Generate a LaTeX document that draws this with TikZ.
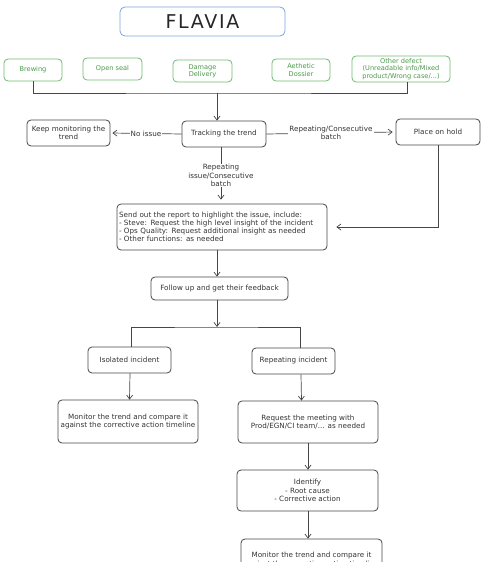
\documentclass[tikz,border=0pt]{standalone}
\usepackage{fontspec}
\setmainfont{DejaVu Sans}
\newfontfamily\titlefont{DejaVu Sans}[LetterSpace=9]
\usepackage{xcolor}
\usepackage{tikz}
\usetikzlibrary{calc}
\usetikzlibrary{arrows.meta}
\definecolor{boxgreen}{RGB}{110,186,110}
\definecolor{textgreen}{RGB}{72,152,72}
\definecolor{boxblue}{RGB}{124,162,222}
\definecolor{linegray}{RGB}{70,70,70}

\begin{document}
\begin{tikzpicture}[x=1pt,y=-1pt,
  every node/.style={font=\fontsize{7.2}{8.2}\selectfont,text=black!80},
  stepbox/.style={draw=linegray,line width=.8pt,rounded corners=4pt,align=center,inner sep=1pt},
  defect/.style={draw=boxgreen,line width=.8pt,rounded corners=4pt,align=center,inner sep=1pt,text=textgreen,font=\fontsize{6.6}{7.4}\selectfont},
  conn/.style={draw=linegray,line width=.7pt,-{Straight Barb[length=4pt,width=6pt]}},
  plain/.style={draw=linegray,line width=.7pt},
  lab/.style={fill=white,inner sep=1pt,align=center}]
  \useasboundingbox (0,0) rectangle (487,577);
  \node[draw=boxblue,line width=.8pt,rounded corners=5pt,minimum width=165pt,minimum height=29pt,font=\titlefont\fontsize{19}{21}\selectfont,text=black!85] (flavia) at (202.5,21.5) {FLAVIA};
  \node[defect,minimum width=58pt,minimum height=22pt] (brewing) at (33,70) {Brewing};
  \node[defect,minimum width=59pt,minimum height=22pt] (openseal) at (112.5,69) {Open seal};
  \node[defect,minimum width=59pt,minimum height=22pt] (damage) at (202.5,71) {Damage\\Delivery};
  \node[defect,minimum width=58pt,minimum height=22pt] (aethetic) at (301,70) {Aethetic\\Dossier};
  \node[defect,minimum width=98pt,minimum height=26pt] (other) at (401,69) {Other defect\\(Unreadable info/Mixed\\product/Wrong case/...)};
  \node[stepbox,minimum width=83pt,minimum height=26pt] (keep) at (68.5,133) {Keep monitoring the\\trend};
  \node[stepbox,minimum width=84pt,minimum height=26pt] (tracking) at (224,134) {Tracking the trend};
  \node[stepbox,minimum width=84pt,minimum height=26pt] (hold) at (438,132) {Place on hold};
  \node[stepbox,minimum width=210pt,minimum height=46pt,align=left,text width=206pt,inner sep=2pt] (report) at (222,227) {Send out the report to highlight the issue, include:\\- Steve: Request the high level insight of the incident\\- Ops Quality: Request additional insight as needed\\- Other functions: as needed};
  \node[stepbox,minimum width=137pt,minimum height=23pt] (follow) at (219.5,288.5) {Follow up and get their feedback};
  \node[stepbox,minimum width=83pt,minimum height=26pt] (isolated) at (129.5,360) {Isolated incident};
  \node[stepbox,minimum width=83pt,minimum height=26pt] (repeating) at (293.5,361) {Repeating incident};
  \node[stepbox,minimum width=140pt,minimum height=43pt] (monitora) at (128,421.5) {Monitor the trend and compare it\\against the corrective action timeline};
  \node[stepbox,minimum width=140pt,minimum height=42pt] (meeting) at (308,422) {Request the meeting with\\Prod/EGN/CI team/... as needed};
  \node[stepbox,minimum width=141pt,minimum height=41pt] (identify) at (307.5,490.5) {Identify\\- Root cause\\- Corrective action};
  \begin{scope}
    \clip (0,0) rectangle (487,561);
    \node[stepbox,minimum width=141pt,minimum height=42pt] (monitorb) at (311.5,560) {Monitor the trend and compare it\\against the corrective action timeline};
  \end{scope}

  \coordinate (join) at (217,93);
  \coordinate (split) at (217,327);
  \draw[plain] (brewing.south) |- (join) -| ($(other.south)+(6,0)$);
  \draw[conn] (join) -- (join |- tracking.north);
  \draw[conn,shorten >=2pt] (tracking.west) -- (keep.east) node[lab,midway] {No issue};
  \draw[conn,shorten >=3pt] (tracking.east) -- (hold.west) node[lab,midway] {Repeating/Consecutive\\batch};
  \draw[conn,shorten >=4pt] ($(tracking.south)+(-3,0)$) -- ($(report.north)+(-1,0)$) node[lab,midway] {Repeating\\issue/Consecutive\\batch};
  \draw[conn,shorten >=9pt] (hold.south) |- (report.east);
  \draw[conn] ($(report.south)+(-5,0)$) -- ($(follow.north)+(-2.5,0)$);
  \draw[conn] ($(follow.south)+(-2.5,0)$) -- (split);
  \draw[plain] ($(isolated.north)+(1.5,0)$) |- (split) -| ($(repeating.north)+(6.5,0)$);
  \draw[conn] ($(isolated.south)+(0.5,0)$) -- ($(monitora.north)+(1.5,0)$);
  \draw[conn] ($(repeating.south)+(7.5,0)$) -- ($(meeting.north)+(-6.5,0)$);
  \draw[conn] (meeting.south) -- (identify.north -| meeting.south);
  \draw[conn] ($(identify.south)+(0.5,0)$) -- ($(monitorb.north)+(-3.5,0)$);
\end{tikzpicture}
\end{document}
